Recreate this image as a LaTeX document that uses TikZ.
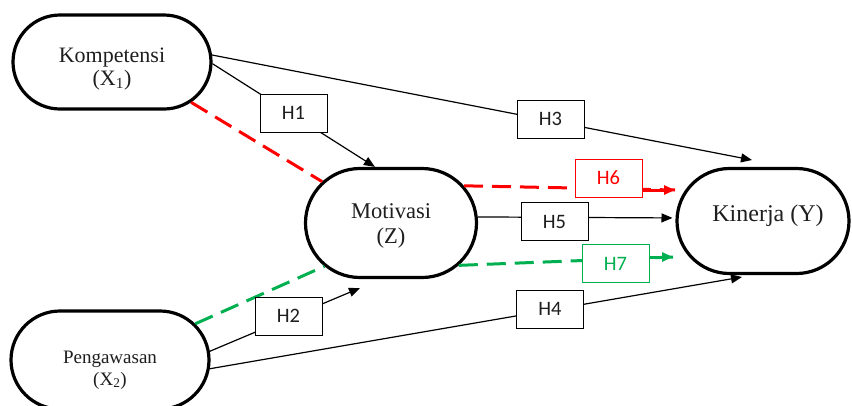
\documentclass[tikz,border=0pt]{standalone}
\usepackage{fontspec}
\setmainfont{Liberation Serif}
\newfontfamily\hboxfont{Carlito}
\usetikzlibrary{shapes.misc,arrows.meta}
\definecolor{myred}{RGB}{255,0,0}
\definecolor{mygreen}{RGB}{0,176,80}
\definecolor{txt}{RGB}{30,30,30}
% first baseline placed #1 above the node centre
\newcommand{\liftlines}[2]{\raisebox{#1}[0pt][0pt]{\begin{tabular}[t]{@{}c@{}}#2\end{tabular}}}
\begin{document}
\begin{tikzpicture}[x=1pt,y=-1pt,
  stadium/.style={rounded rectangle, draw, line width=3.2pt, fill=white, text=txt, inner sep=0pt},
  hbox/.style={draw, fill=white, minimum width=67pt, minimum height=38pt, inner sep=0pt, text=txt, font=\hboxfont\fontsize{20.5}{22}\selectfont, line width=0.8pt},
  tip/.style={-{Triangle[length=11pt,width=9pt]}},
  conn/.style={line width=1.2pt, tip},
  reddash/.style={draw=myred, line width=3pt, dash pattern=on 19pt off 9pt},
  greendash/.style={draw=mygreen, line width=3pt, dash pattern=on 19pt off 9pt},
]
\useasboundingbox (0,0) rectangle (852,405);

% main constructs
\node[stadium, minimum width=198pt, minimum height=94pt, font=\fontsize{22}{23}\selectfont] (komp) at (112,62) {\liftlines{0pt}{Kompetensi\\(X\textsubscript{1})}};
\node[stadium, minimum width=171pt, minimum height=109pt, font=\fontsize{22.5}{25}\selectfont] (motiv) at (391,223) {\liftlines{5pt}{Motivasi\\(Z)}};
\node[stadium, minimum width=172pt, minimum height=105pt, font=\fontsize{24}{27}\selectfont] (kin) at (763,221) {\liftlines{0pt}{\hspace*{10pt}Kinerja (Y)}};
\node[stadium, minimum width=198pt, minimum height=98pt, font=\fontsize{19}{22}\selectfont] (peng) at (110,360) {\liftlines{-3pt}{Pengawasan\\(X\textsubscript{2})}};

% free arrow ends
\coordinate (h3end) at (752,160);
\coordinate (h6end) at (675,190);
\coordinate (h7end) at (673,257);
\coordinate (h2end) at (360,288);
\coordinate (h4end) at (742,277);

% connectors
\draw[conn] (komp.-1) -- (motiv.106);
\draw[conn] (komp.4) -- (h3end);
\draw[conn] (motiv.4) -- ([xshift=-3pt]kin.178);
\draw[conn] (peng.5) -- (h2end);
\draw[conn] (peng.-5) -- (h4end);
\draw[reddash] (komp.-27) -- (motiv.149);
\draw[reddash] (motiv.27) -- (h6end);
\draw[greendash] (peng.23) -- (motiv.213);
\draw[greendash] (motiv.-32) -- (h7end);

% hypothesis boxes
\node[hbox] (h1) at (293.5,113) {H1};
\node[hbox] (h3) at (550.5,119) {H3};
\node[hbox, draw=myred, text=myred] (h6) at (608.5,178) {H6};
\node[hbox] (h5) at (554.5,221.5) {H5};
\node[hbox, draw=mygreen, text=mygreen] (h7) at (615.5,263.5) {H7};
\node[hbox] (h2) at (288.5,316) {H2};
\node[hbox] (h4) at (550,309) {H4};

% arrow heads after coloured boxes
\draw[myred, line width=3pt, tip] (h6.east |- h6end) -- (h6end);
\draw[mygreen, line width=3pt, tip] (h7.east |- h7end) -- (h7end);
\end{tikzpicture}
\end{document}
